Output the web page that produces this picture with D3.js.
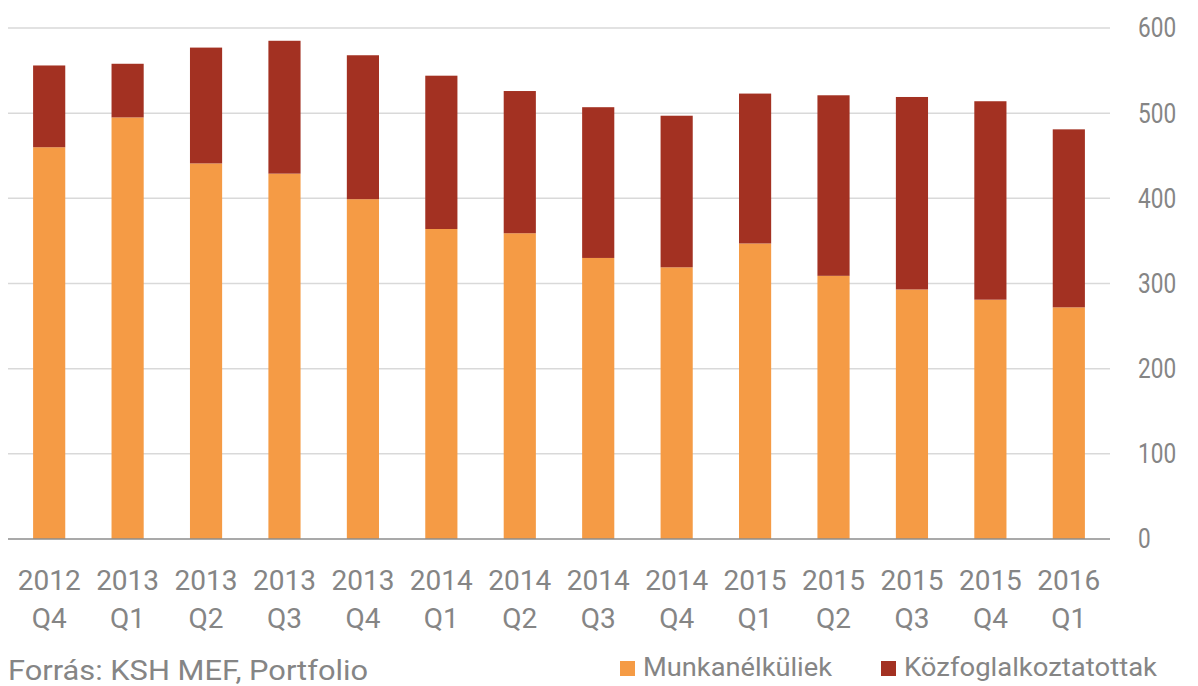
<!DOCTYPE html>
<html><head><meta charset="utf-8">
<script src="https://cdn.jsdelivr.net/npm/d3@7"></script>
<style>body{margin:0;background:#fff}svg{display:block}text{font-family:Roboto,"Noto Sans",sans-serif}</style>
</head><body>
<svg id="c" width="1198" height="686"></svg>
<script>
const years = ["2012","2013","2013","2013","2013","2014","2014","2014","2014","2015","2015","2015","2015","2016"];
const quarters = ["Q4","Q1","Q2","Q3","Q4","Q1","Q2","Q3","Q4","Q1","Q2","Q3","Q4","Q1"];
const munkanelkuliek = [460,495,441,429,399,364,359,330,319,347,309,293,281,272];
const kozfoglalkoztatottak = [96,63,136,156,169,180,167,177,178,176,212,226,233,209];
const yTicks = [0,100,200,300,400,500,600];
const seriesNames = ["Munkanélküliek","Közfoglalkoztatottak"];
const colors = ["#F59B45","#A33122"];
const textColor = "#858585";

const svg = d3.select("#c");
const cats = years.map((y,i)=>y+" "+quarters[i]);
const x = d3.scaleBand().domain(cats).range([8,1110]).paddingInner(0.59).paddingOuter(0.32);
const y = d3.scaleLinear().domain([0,600]).range([539,28]);

// grid
svg.append("g").selectAll("line").data(yTicks.filter(d=>d>0)).join("line")
  .attr("x1",8).attr("x2",1110).attr("y1",d=>y(d)).attr("y2",d=>y(d))
  .attr("stroke","#d9d9d9").attr("stroke-width",1.5);

// y labels
svg.append("g").selectAll("text").data(yTicks).join("text")
  .attr("x",1138).attr("y",d=>y(d)).attr("dy","0.35em")
  .attr("fill",textColor).attr("font-size",27)
  .attr("textLength",d=>String(d).length*12.7).attr("lengthAdjust","spacingAndGlyphs")
  .text(d=>d);

// stacked bars
const data = cats.map((c,i)=>({cat:c, a:munkanelkuliek[i], b:kozfoglalkoztatottak[i]}));
const stack = d3.stack().keys(["a","b"])(data);
svg.append("g").selectAll("g").data(stack).join("g").attr("fill",(d,i)=>colors[i])
  .selectAll("rect").data(d=>d).join("rect")
  .attr("x",d=>x(d.data.cat)).attr("width",x.bandwidth())
  .attr("y",d=>y(d[1])).attr("height",d=>y(d[0])-y(d[1]));

// zero axis
svg.append("line").attr("x1",8).attr("x2",1110).attr("y1",y(0)).attr("y2",y(0))
  .attr("stroke","#8c8c8c").attr("stroke-width",1.5);

// x labels
const xl = svg.append("g").selectAll("text").data(cats).join("text")
  .attr("text-anchor","middle").attr("fill",textColor).attr("font-size",28);
xl.append("tspan").attr("x",d=>x(d)+x.bandwidth()/2).attr("y",590).text((d,i)=>years[i]);
xl.append("tspan").attr("x",d=>x(d)+x.bandwidth()/2).attr("y",628).text((d,i)=>quarters[i]);

// source
svg.append("text").attr("x",8).attr("y",680).attr("fill",textColor).attr("font-size",27)
  .attr("textLength",360).attr("lengthAdjust","spacingAndGlyphs")
  .text("Forrás: KSH MEF, Portfolio");

// legend
const lg = [{x:620, w:189},{x:881, w:253}];
seriesNames.forEach((n,i)=>{
  svg.append("rect").attr("x",lg[i].x).attr("y",661).attr("width",15).attr("height",15).attr("fill",colors[i]);
  svg.append("text").attr("x",lg[i].x+23).attr("y",676).attr("fill",textColor).attr("font-size",26)
    .attr("textLength",lg[i].w).attr("lengthAdjust","spacingAndGlyphs").text(n);
});
</script>
</body></html>
